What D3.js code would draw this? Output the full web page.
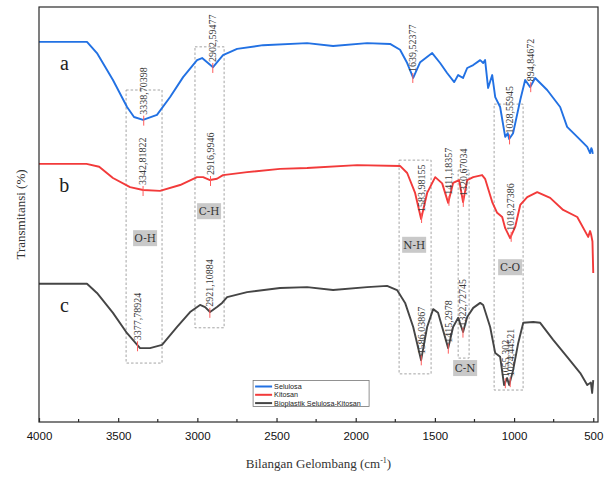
<!DOCTYPE html>
<html>
<head>
<meta charset="utf-8">
<script src="https://cdn.jsdelivr.net/npm/d3@7"></script>
<style>
  body { margin: 0; background: #fff; }
  svg { display: block; }
</style>
</head>
<body>
<svg id="chart" width="604" height="478"></svg>
<script>
// FTIR spectra, [wavenumber, transmittance (stacked, arbitrary %)]
const selulosa = [[4000,91.6],[3800,91.6],[3697,91.6],[3634,88.9],[3533,82.4],[3444,75.9],[3400,73.5],[3343,72.8],[3255,74.0],[3172,78.3],[3090,83.1],[3002,87.2],[2970,87.7],[2901,85.5],[2838,88.4],[2749,89.9],[2585,90.8],[2307,91.3],[2143,90.6],[1928,91.3],[1783,91.1],[1720,89.7],[1675,86.5],[1637,82.9],[1593,86.7],[1517,88.9],[1467,86.5],[1423,84.1],[1378,81.9],[1353,83.6],[1322,82.9],[1296,85.3],[1258,86.0],[1214,87.2],[1195,86.5],[1183,87.2],[1164,80.5],[1138,83.6],[1119,78.3],[1088,75.9],[1056,68.7],[1040,69.6],[1031,68.2],[1006,69.6],[961,77.6],[930,82.4],[898,80.7],[867,82.9],[791,80.0],[709,75.9],[665,71.1],[601,68.7],[538,66.3],[520,64.8],[512,66.0],[507,65.5],[503,64.6]];
const kitosan = [[4000,62.2],[3700,62.2],[3620,61.5],[3533,58.8],[3425,56.6],[3343,55.9],[3236,55.7],[3109,57.1],[3002,59.0],[2964,59.0],[2920,58.3],[2876,58.6],[2838,59.5],[2686,60.2],[2478,61.0],[2307,61.2],[1991,61.9],[1720,61.7],[1675,60.0],[1625,55.2],[1587,48.9],[1549,55.2],[1498,59.0],[1454,57.5],[1416,52.8],[1385,57.6],[1347,58.3],[1322,53.0],[1296,58.3],[1258,59.0],[1202,59.5],[1183,58.6],[1138,53.0],[1107,50.4],[1075,49.4],[1056,46.7],[1025,44.3],[993,47.0],[961,52.3],[917,54.2],[854,55.4],[772,54.0],[690,51.1],[601,49.4],[532,44.6],[520,46.0],[513,45.1],[505,43.5],[500,35.9]];
const bioplastik = [[4000,33.3],[3697,33.3],[3634,31.1],[3533,26.3],[3444,21.4],[3362,17.8],[3299,17.8],[3223,18.6],[3128,22.9],[3046,26.5],[2983,28.2],[2951,27.7],[2920,26.5],[2876,27.7],[2844,28.7],[2812,30.1],[2686,31.3],[2478,32.3],[2307,32.5],[2143,31.8],[1928,32.5],[1802,32.8],[1739,31.8],[1688,28.7],[1637,22.9],[1587,14.9],[1549,22.9],[1511,27.2],[1480,26.3],[1416,17.8],[1385,22.9],[1353,25.1],[1322,21.7],[1296,25.3],[1258,27.5],[1214,28.7],[1195,28.2],[1151,22.9],[1119,16.6],[1088,15.7],[1063,8.9],[1044,10.6],[1031,8.9],[1006,12.5],[974,19.0],[942,23.9],[879,24.1],[835,23.9],[753,19.8],[665,15.7],[582,11.8],[538,8.9],[515,9.5],[507,7.0],[500,10.1]];

const seriesNames = ["Selulosa", "Kitosan", "Bioplastik Selulosa-Kitosan"];
const seriesLetters = ["a", "b", "c"];

// peak labels per series
const peaksA = ["3338,70398", "2902,59477", "1639,52377", "1028,55945", "894,84672"];
const peaksB = ["3342,81822", "2916,9946", "1583,98155", "1411,18357", "1320,67034", "1018,27386"];
const peaksC = ["3377,78924", "2921,10884", "1586,03867", "1415,2978", "1322,72745", "1055,302", "1024,44521"];

// functional group bands: [from, to] wavenumber, [top, bottom] transmittance
const bandNames = ["O-H", "C-H", "N-H", "C-N", "C-O"];
const bandRanges = [[3450, 3223], [3015, 2831], [1726, 1524], [1353, 1284], [1126, 943]];
const bandSpans = [[80.0, 14.2], [90.4, 22.7], [63.1, 11.6], [60.7, 15.4], [76.6, 7.7]];
const bandLabelAt = [[3330, 44.3], [2926, 50.8], [1631, 42.7], [1309, 13.0], [1025, 37.3]];

const xTicks = [4000, 3500, 3000, 2500, 2000, 1500, 1000, 500];

const colors = ["#2271e3", "#f23a3a", "#454545"];
const data = [selulosa, kitosan, bioplastik];
const peaks = [peaksA, peaksB, peaksC];

const margin = {left: 39, top: 7, right: 6, bottom: 56};
const W = 604, H = 478;
const svg = d3.select("#chart");

const x = d3.scaleLinear().domain([4000, 470]).range([margin.left, W - margin.right]);
const y = d3.scaleLinear().domain([0, 100]).range([H - margin.bottom, margin.top]);

// value of a series at a wavenumber (linear between points)
function valueAt(series, w) {
    for (let i = 0; i < series.length - 1; i++) {
        let a = series[i], b = series[i + 1];
        if (w <= a[0] && w >= b[0]) {
            let t = (a[0] - w) / (a[0] - b[0]);
            return a[1] + t * (b[1] - a[1]);
        }
    }
    return series[series.length - 1][1];
}

// dashed band boxes
bandRanges.forEach(function(r, i) {
    svg.append("rect")
        .attr("x", x(r[0]))
        .attr("y", y(bandSpans[i][0]))
        .attr("width", x(r[1]) - x(r[0]))
        .attr("height", y(bandSpans[i][1]) - y(bandSpans[i][0]))
        .attr("fill", "none")
        .attr("stroke", "#9a9a9a")
        .attr("stroke-width", 0.9)
        .attr("stroke-dasharray", "2.5,2");
});

// spectra
const line = d3.line().x(d => x(d[0])).y(d => y(d[1]));
data.forEach(function(s, i) {
    svg.append("path")
        .datum(s)
        .attr("d", line)
        .attr("fill", "none")
        .attr("stroke", colors[i])
        .attr("stroke-width", 1.9)
        .attr("stroke-linejoin", "round");
});

// peak markers and labels
peaks.forEach(function(list, i) {
    list.forEach(function(lbl) {
        let w = +lbl.replace(",", ".");
        let py = y(valueAt(data[i], w));
        svg.append("line")
            .attr("x1", x(w)).attr("x2", x(w))
            .attr("y1", py - 4).attr("y2", py + 6)
            .attr("stroke", "#ff5a5a")
            .attr("stroke-width", 1);
        svg.append("text")
            .attr("transform", "translate(" + x(w) + "," + (py - 5) + ") rotate(-90)")
            .attr("dy", "0.33em")
            .attr("font-family", "Liberation Serif, serif")
            .attr("font-size", 10)
            .attr("fill", "#3a3a3a")
            .text(lbl);
    });
});

// band labels
bandNames.forEach(function(name, i) {
    let cx = x(bandLabelAt[i][0]), cy = y(bandLabelAt[i][1]);
    svg.append("rect")
        .attr("x", cx - 12).attr("y", cy - 8)
        .attr("width", 24).attr("height", 16)
        .attr("fill", "#c9c9c9");
    svg.append("text")
        .attr("x", cx).attr("y", cy)
        .attr("dy", "0.36em")
        .attr("text-anchor", "middle")
        .attr("font-family", "DejaVu Serif, serif")
        .attr("font-size", 10.5)
        .attr("fill", "#333")
        .text(name);
});

// series letters
seriesLetters.forEach(function(l, i) {
    svg.append("text")
        .attr("x", x(3840))
        .attr("y", y(data[i][0][1]) + 28)
        .attr("text-anchor", "middle")
        .attr("font-family", "Liberation Serif, serif")
        .attr("font-size", 20)
        .attr("fill", "#222")
        .text(l);
});

// frame
svg.append("rect")
    .attr("x", margin.left).attr("y", margin.top)
    .attr("width", W - margin.left - margin.right)
    .attr("height", H - margin.top - margin.bottom)
    .attr("fill", "none")
    .attr("stroke", "#2a2a2a")
    .attr("stroke-width", 1.2);

// x axis, ticks pointing inward
const xAxis = d3.axisBottom(x).tickValues(xTicks).tickSize(-4).tickPadding(10).tickFormat(d3.format("d"));
const gx = svg.append("g")
    .attr("transform", "translate(0," + (H - margin.bottom) + ")")
    .call(xAxis);
gx.select(".domain").remove();
gx.selectAll("line").attr("stroke", "#2a2a2a").attr("stroke-width", 1.2);
gx.selectAll("text")
    .attr("font-family", "Liberation Sans, Arial, sans-serif")
    .attr("font-size", 11.5)
    .attr("fill", "#111");
const minor = d3.range(3750, 470, -500);
gx.selectAll(".minor").data(minor).enter().append("line")
    .attr("x1", d => x(d)).attr("x2", d => x(d))
    .attr("y1", 0).attr("y2", -3)
    .attr("stroke", "#2a2a2a").attr("stroke-width", 1.2);

// axis titles
const xt = svg.append("text")
    .attr("x", (margin.left + W - margin.right) / 2)
    .attr("y", H - 10)
    .attr("text-anchor", "middle")
    .attr("font-family", "Liberation Serif, serif")
    .attr("font-size", 13)
    .attr("fill", "#333");
xt.append("tspan").text("Bilangan Gelombang (cm");
xt.append("tspan").attr("font-size", 8).attr("dy", -5).text("-1");
xt.append("tspan").attr("dy", 5).text(")");

svg.append("text")
    .attr("transform", "translate(20," + ((margin.top + H - margin.bottom) / 2) + ") rotate(-90)")
    .attr("text-anchor", "middle")
    .attr("dy", "0.35em")
    .attr("font-family", "Liberation Serif, serif")
    .attr("font-size", 13)
    .attr("fill", "#333")
    .text("Transmitansi (%)");

// legend
const lg = svg.append("g").attr("transform", "translate(" + x(2648) + "," + y(10) + ")");
lg.append("rect")
    .attr("width", 116).attr("height", 26)
    .attr("fill", "#fff")
    .attr("stroke", "#777")
    .attr("stroke-width", 0.8);
seriesNames.forEach(function(n, i) {
    let ly = 6 + i * 8.3;
    lg.append("line")
        .attr("x1", 2).attr("x2", 19)
        .attr("y1", ly).attr("y2", ly)
        .attr("stroke", colors[i]).attr("stroke-width", 2);
    lg.append("text")
        .attr("x", 21).attr("y", ly)
        .attr("dy", "0.35em")
        .attr("font-family", "Liberation Sans, Arial, sans-serif")
        .attr("font-size", 7.2)
        .attr("fill", "#222")
        .text(n);
});
</script>
</body>
</html>
